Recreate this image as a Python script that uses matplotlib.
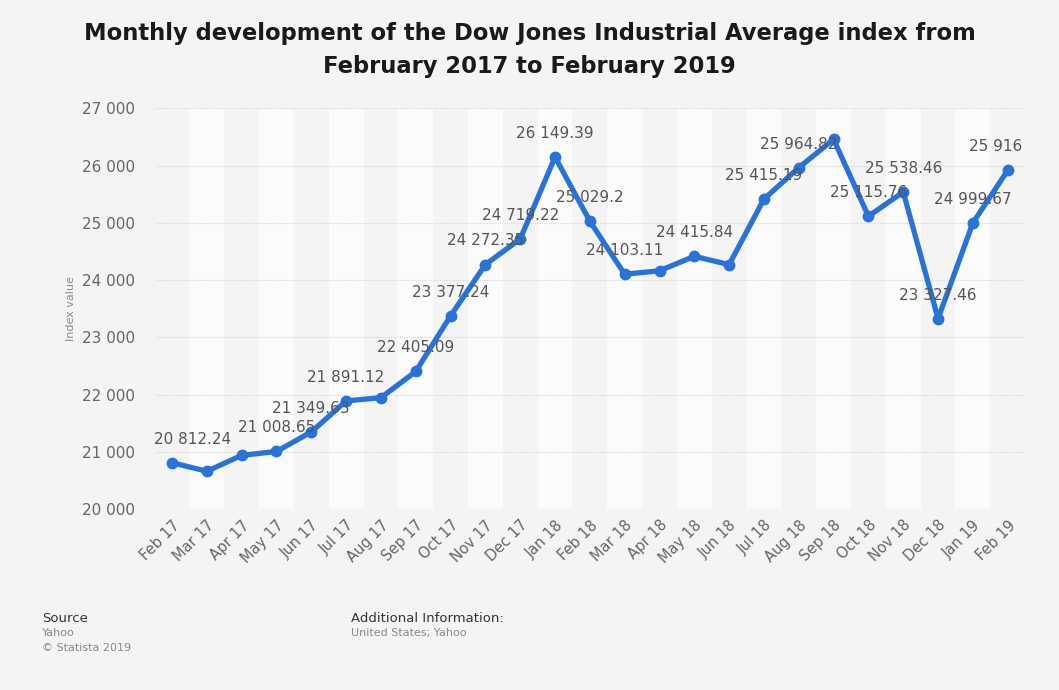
import matplotlib
matplotlib.use("Agg")
import matplotlib.pyplot as plt
import numpy as np

months = ['Feb 17', 'Mar 17', 'Apr 17', 'May 17', 'Jun 17', 'Jul 17', 'Aug 17',
          'Sep 17', 'Oct 17', 'Nov 17', 'Dec 17', 'Jan 18', 'Feb 18', 'Mar 18',
          'Apr 18', 'May 18', 'Jun 18', 'Jul 18', 'Aug 18', 'Sep 18', 'Oct 18',
          'Nov 18', 'Dec 18', 'Jan 19', 'Feb 19']
values = [20812.24, 20663.22, 20940.51, 21008.65, 21349.63, 21891.12, 21948.10,
          22405.09, 23377.24, 24272.35, 24719.22, 26149.39, 25029.20, 24103.11,
          24163.15, 24415.84, 24271.41, 25415.19, 25964.82, 26458.31, 25115.76,
          25538.46, 23327.46, 24999.67, 25916.00]
# months that carry a value label in the original
labelled = [0, 3, 4, 5, 7, 8, 9, 10, 11, 12, 13, 15, 17, 18, 20, 21, 22, 23, 24]
yticks = [20000, 21000, 22000, 23000, 24000, 25000, 26000, 27000]

bg = '#f4f4f4'
fig = plt.figure(figsize=(10.59, 6.9), dpi=100, facecolor=bg)
ax = fig.add_axes([0.146, 0.262, 0.822, 0.581])
ax.set_facecolor(bg)

x = np.arange(len(months))
for i in x:
    if i % 2 == 1:
        ax.axvspan(i - 0.5, i + 0.5, color='#fbfbfb', zorder=0, lw=0)

ax.plot(x, values, color='#2a72d8', lw=3.8, marker='o', ms=7.5,
        solid_joinstyle='round', zorder=3)

def fmt(v):
    s = f"{v:,.2f}".rstrip('0').rstrip('.')
    return s.replace(',', ' ')

for i in labelled:
    dx = 0
    if i == 0:
        dx = 15
    elif i == len(months) - 1:
        dx = -9
    ax.annotate(fmt(values[i]), xy=(i, values[i]), xytext=(dx, 17),
                textcoords='offset points', ha='center', va='center',
                fontsize=11, color='#555555', zorder=4)

ax.set_xlim(-0.5, len(months) - 0.5)
ax.set_ylim(20000, 27000)
ax.set_yticks(yticks)
ax.set_yticklabels([f"{t:,}".replace(',', ' ') for t in yticks])
ax.set_xticks(x)
ax.set_xticklabels(months, rotation=45, ha='right', rotation_mode='anchor')
ax.tick_params(axis='both', length=0, colors='#666666')
ax.tick_params(axis='y', pad=14, labelsize=11)
ax.tick_params(axis='x', pad=6, labelsize=10.5)
ax.grid(axis='y', color='#d8d8d8', ls=(0, (1, 1)), lw=0.8, zorder=1)
for s in ax.spines.values():
    s.set_visible(False)
ax.set_ylabel('Index value', fontsize=8, color='#888888', labelpad=4)

fig.text(0.5, 0.928, 'Monthly development of the Dow Jones Industrial Average index from\nFebruary 2017 to February 2019',
         ha='center', va='center', fontsize=16.3, fontweight='bold', color='#1a1a1a',
         linespacing=1.55)

fig.text(42 / 1059, 1 - 619 / 690, 'Source', fontsize=9.5, color='#333333', va='center')
fig.text(42 / 1059, 1 - 633 / 690, 'Yahoo', fontsize=8, color='#888888', va='center')
fig.text(42 / 1059, 1 - 648 / 690, '\u00a9 Statista 2019', fontsize=8, color='#888888', va='center')
fig.text(351 / 1059, 1 - 619 / 690, 'Additional Information:', fontsize=9.5, color='#333333', va='center')
fig.text(351 / 1059, 1 - 633 / 690, 'United States; Yahoo', fontsize=8, color='#888888', va='center')

fig.savefig('out.png', dpi=100, facecolor=bg)
